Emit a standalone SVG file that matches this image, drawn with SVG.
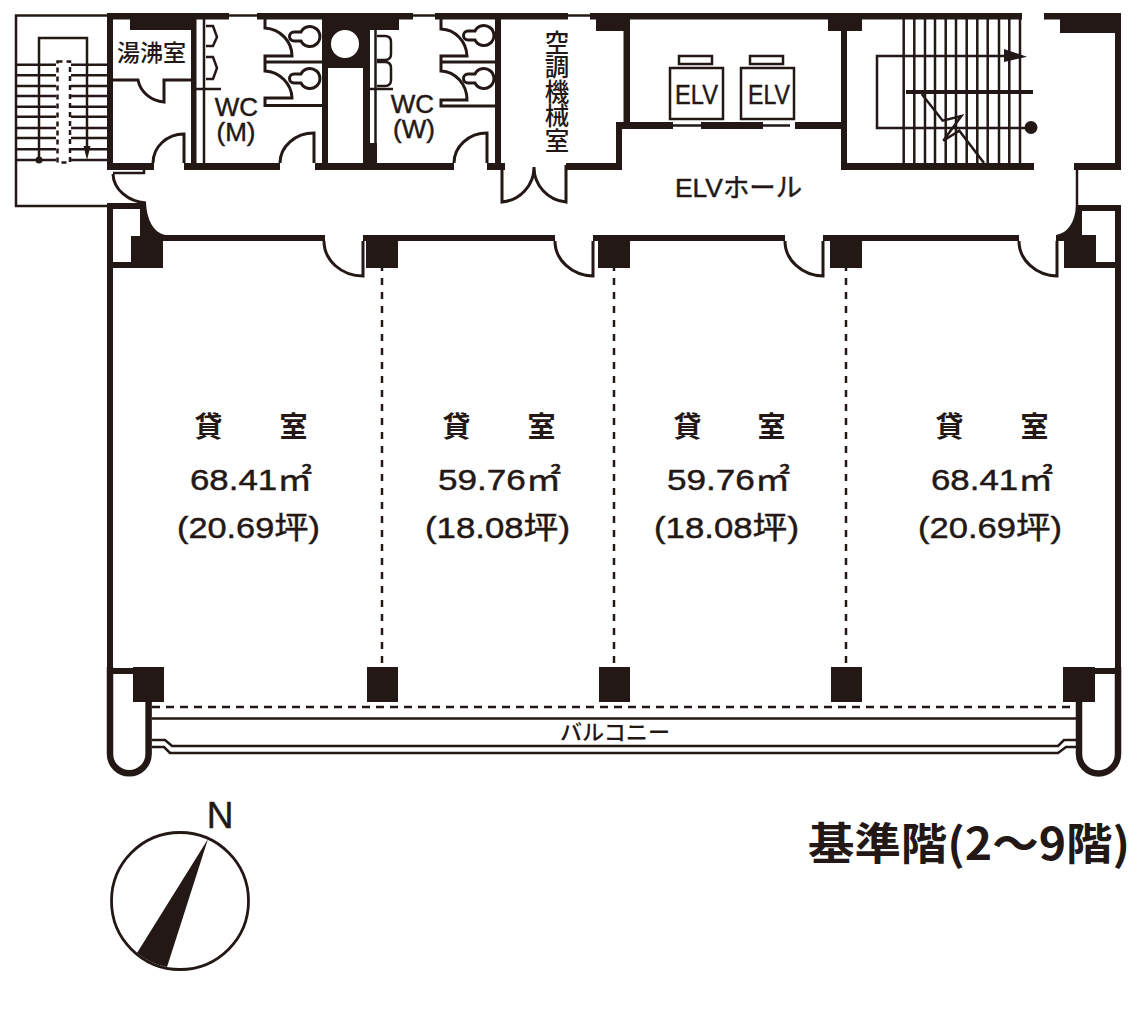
<svg xmlns="http://www.w3.org/2000/svg" width="1144" height="1020" viewBox="0 0 1144 1020">
<style>
.b{fill:#231815;stroke:none}
.l{fill:none;stroke:#231815;stroke-width:2.5}
.t{fill:none;stroke:#231815;stroke-width:3}
.th{fill:none;stroke:#231815;stroke-width:4}
.w{fill:none;stroke:#231815;stroke-width:6.5}
.d{fill:none;stroke:#231815;stroke-width:2.5;stroke-dasharray:7 7}
text{fill:#231815;stroke:#231815;stroke-width:.45;font-family:"Liberation Sans","Noto Sans CJK JP",sans-serif;text-anchor:middle}
.j{font-family:"Noto Sans CJK JP",sans-serif;font-weight:500;stroke:none}
.s{font-size:30px;text-anchor:start}
.n{font-size:28px;font-family:"Noto Sans CJK JP",sans-serif;font-weight:700;stroke:none}
</style>
<rect width="1144" height="1020" fill="#fff"/>
<g id="walls">
<path class="l" d="M107,15.500H16V206H107"/>
<path class="l" d="M229,15.500H257M413,15.500H435M568,15.500H590"/>
<rect class="b" x="107" y="13" width="122" height="6.500"/>
<rect class="b" x="257" y="13" width="156" height="6.500"/>
<rect class="b" x="435" y="13" width="133" height="6.500"/>
<rect class="b" x="590" y="13" width="432" height="6.500"/>
<rect class="b" x="1044" y="13" width="77" height="6.500"/>
<rect class="b" x="130" y="13" width="65" height="17"/>
<rect class="b" x="107" y="13" width="6" height="157"/>
<rect class="b" x="107" y="163" width="47" height="7"/>
<rect class="b" x="184" y="163" width="96" height="7"/>
<rect class="b" x="315" y="163" width="139" height="7"/>
<rect class="b" x="487" y="163" width="18" height="7"/>
<rect class="b" x="566" y="163" width="56" height="7"/>
<rect class="b" x="191" y="13" width="5.500" height="155"/>
<path class="l" d="M204,19V164M196,89H221"/>
<path class="b" d="M320,13H399V30H370V143H377V164H363V68H328V164H322V13ZM359,44A14,14 0 1 0 331,44A14,14 0 1 0 359,44Z" fill-rule="evenodd"/>
<path class="l" d="M375.500,30V143M370,89H393"/>
<rect class="b" x="495" y="19" width="6" height="146"/>
<rect class="b" x="623.500" y="19" width="6.500" height="104"/>
<rect class="b" x="616" y="122" width="6" height="48"/>
<rect class="b" x="616" y="122" width="57" height="7"/>
<path class="l" d="M673,125.500H701M763,125.500H790"/>
<rect class="b" x="701" y="122" width="62" height="7"/>
<rect class="b" x="795" y="122" width="47" height="7"/>
<rect class="b" x="828" y="13" width="34" height="18"/>
<rect class="b" x="596" y="13" width="34" height="18"/>
<rect class="b" x="841" y="19" width="6" height="151"/>
<rect class="b" x="841" y="163" width="193" height="7"/>
<rect class="b" x="1060" y="13" width="61" height="20"/>
<rect class="b" x="1115" y="13" width="6" height="157"/>
<rect class="b" x="1074" y="163" width="47" height="7"/>
<path class="l" d="M1077,170V210"/>
<rect class="b" x="1077" y="205" width="44" height="6"/>
<rect class="b" x="1115" y="205" width="6" height="470"/>
<rect class="b" x="107" y="203" width="39" height="6"/>
<rect class="b" x="107" y="203" width="6" height="470"/>
<path class="b" d="M140,203H146C147,220 153,232 165,235H325V241H163V268H113V262H131V236H140Z"/>
<path class="b" d="M363,235H555V241H398V268H366V241H363Z"/>
<path class="b" d="M593,235H785V241H630V268H598V241H593Z"/>
<path class="b" d="M823,235H1019V241H862V268H830V241H823Z"/>
<path class="b" d="M1076,206H1082V235H1096V268H1064V241H1056V235C1068,233 1075,222 1076,206Z"/>
<rect class="b" x="1096" y="262" width="19" height="6"/>
</g>
<g id="doors">
<path class="t" d="M113,80H138A29,27 0 0 0 164,102V80H191"/>
<path class="t" d="M153,163A31,29 0 0 1 184,134V163"/>
<path class="t" d="M280,163A34,30 0 0 1 314,133V163"/>
<path class="t" d="M454,163A33,30 0 0 1 487,133V163"/>
<path class="l" d="M113,173H144V170"/>
<path class="t" d="M113,174A36,30 0 0 0 146,203"/>
<path class="t" d="M502,165V202A35,35 0 0 0 534,167A35,35 0 0 0 566,202V165"/>
<path class="t" d="M324,241A39,35 0 0 0 363,276V241"/>
<path class="t" d="M555,241A39,35 0 0 0 593,276V241"/>
<path class="t" d="M785,241A39,35 0 0 0 823,276V241"/>
<path class="t" d="M1019,241A39,35 0 0 0 1057,276V241"/>
</g>
<g id="toilets">
<path class="t" d="M265,19V28A29,28 0 0 1 292,56H265V62H322M265,62V71A29,28 0 0 1 292,98H265V105.500H322"/>
<path class="t" d="M441,19V29A27,28 0 0 1 467,56H441V62H495M441,62V71A27,29 0 0 1 467,100H441V106H495"/>
<g id="toilet-m">
<path class="t" d="M301,32H294A4.500,4.500 0 0 0 294,41H301A10,10 0 1 0 301,32Z"/>
<path class="t" d="M301,74H294A4.500,4.500 0 0 0 294,83H301A10,10 0 1 0 301,74Z"/>
</g>
<g id="toilet-w">
<path class="t" d="M475,31H468A4.500,4.500 0 0 0 468,40H475A10,10 0 1 0 475,31Z"/>
<path class="t" d="M475,74H468A4.500,4.500 0 0 0 468,83H475A10,10 0 1 0 475,74Z"/>
</g>
<path class="l" d="M206,26H213L217,37L213,46H206M206,57H213L217,68L213,79H206"/>
<path class="l" d="M377,36H385Q391,36 391,42V54Q391,60 385,60H377M377,62H385Q391,62 391,68V80Q391,86 385,86H377"/>
</g>
<g id="stairs">
<path class="l" d="M16,64.700H56M71,64.700H107M16,75.300H56M71,75.300H107M16,86H56M71,86H107M16,96H56M71,96H107M16,106.700H56M71,106.700H107M16,116.700H56M71,116.700H107M16,128H56M71,128H107M16,138H56M71,138H107M16,149.300H56M71,149.300H107M16,160H56M71,160H107"/>
<rect x="57.500" y="61.500" width="12.500" height="101" fill="none" stroke="#231815" stroke-width="2.500" stroke-dasharray="5 4"/>
<path class="l" d="M39,160V38H87V150"/>
<circle class="b" cx="39" cy="160" r="3.500"/>
<path class="b" d="M83.500,146H90.500L87,160Z"/>
<path class="l" d="M903.700,19V163M914.300,19V163M925,19V163M935,19V163M945.700,19V163M956,19V163M966.700,19V163M977.300,19V163M987.700,19V163M999,19V163M1009.300,19V163M1020,19V163"/>
<path class="th" d="M906,92H1033"/>
<path class="l" d="M1005,56H877V128H1030"/>
<path class="b" d="M1004,49L1027,56.700L1004,62Z"/>
<circle class="b" cx="1031" cy="127.500" r="6.500"/>
<path fill="none" stroke="#231815" stroke-width="2.500" d="M921.700,94L942.700,120.700L961.300,116L943.300,140.700L959.300,130.700L984,163"/>
</g>
<g id="elevators">
<rect class="l" x="670" y="68" width="53" height="51"/>
<rect class="l" x="741" y="68" width="53" height="51"/>
<rect class="l" x="679" y="56" width="33" height="8"/>
<rect class="l" x="750" y="56" width="33" height="8"/>
</g>
<g id="partitions">
<path class="d" d="M382,264V668M614,264V668M846,264V668"/>
</g>
<g id="balcony">
<rect class="b" x="133" y="667" width="31" height="35"/>
<rect class="b" x="367" y="667" width="31" height="35"/>
<rect class="b" x="599" y="667" width="31" height="35"/>
<rect class="b" x="831" y="667" width="31" height="35"/>
<rect class="b" x="1063" y="667" width="32" height="35"/>
<rect class="b" x="113" y="668" width="20" height="6"/>
<rect class="b" x="1095" y="668" width="20" height="6"/>
<path class="w" d="M110,667V754A19.300,19.300 0 0 0 148.600,754V702"/>
<path class="w" d="M1118,667V754A19.300,19.300 0 0 1 1079,754V702"/>
<path fill="none" stroke="#231815" stroke-width="2.500" stroke-dasharray="8 6" d="M152,707H1075"/>
<path class="l" d="M152,718.500H1076M152,740H165L172,746H1058L1064,740H1076M152,747H164L170,753H1058L1066,747H1076"/>
</g>
<g id="compass">
<circle cx="180" cy="901" r="68.500" fill="none" stroke="#231815" stroke-width="2.800"/>
<path class="b" d="M208,839L137,953A68.500,68.500 0 0 0 167,967Z"/>
</g>
<g id="labels">
<text class="j" x="151.500" y="61" font-size="23">湯沸室</text>
<text font-size="26"><tspan x="236.500" y="116">WC</tspan><tspan x="236" y="141">(M)</tspan></text>
<text font-size="26"><tspan x="412.500" y="113">WC</tspan><tspan x="414" y="138">(W)</tspan></text>
<text class="j" x="557" y="30" font-size="24.500" style="writing-mode:vertical-rl;text-anchor:start">空調機械室</text>
<text x="696.500" y="104" font-size="27" textLength="43" lengthAdjust="spacingAndGlyphs">ELV</text>
<text x="769" y="104" font-size="27" textLength="42" lengthAdjust="spacingAndGlyphs">ELV</text>
<text x="738.500" y="197" font-size="26" textLength="127" lengthAdjust="spacingAndGlyphs">ELVホール</text>
<text class="j" x="615" y="740" font-size="22" textLength="110" lengthAdjust="spacingAndGlyphs">バルコニー</text>
<g id="room-1">
<text class="n" x="208.500" y="437">貸</text><text class="n" x="293.500" y="437">室</text>
<text class="s" x="190" y="490" textLength="122" lengthAdjust="spacingAndGlyphs">68.41㎡</text>
<text class="s" x="177" y="538" textLength="143" lengthAdjust="spacingAndGlyphs">(20.69坪)</text>
</g>
<g id="room-2">
<text class="n" x="456.500" y="437">貸</text><text class="n" x="541.500" y="437">室</text>
<text class="s" x="438" y="490" textLength="123" lengthAdjust="spacingAndGlyphs">59.76㎡</text>
<text class="s" x="425" y="538" textLength="145" lengthAdjust="spacingAndGlyphs">(18.08坪)</text>
</g>
<g id="room-3">
<text class="n" x="687.500" y="437">貸</text><text class="n" x="771.500" y="437">室</text>
<text class="s" x="667" y="490" textLength="123" lengthAdjust="spacingAndGlyphs">59.76㎡</text>
<text class="s" x="654" y="538" textLength="145" lengthAdjust="spacingAndGlyphs">(18.08坪)</text>
</g>
<g id="room-4">
<text class="n" x="949.500" y="437">貸</text><text class="n" x="1034.500" y="437">室</text>
<text class="s" x="931" y="490" textLength="122" lengthAdjust="spacingAndGlyphs">68.41㎡</text>
<text class="s" x="918" y="538" textLength="144" lengthAdjust="spacingAndGlyphs">(20.69坪)</text>
</g>
<text x="220" y="828" font-size="37">N</text>
<text x="808" y="860" font-size="44" font-weight="700" style="text-anchor:start;font-family:'Noto Sans CJK JP',sans-serif;stroke:none" textLength="322" lengthAdjust="spacingAndGlyphs">基準階(2～9階)</text>
</g>
</svg>
